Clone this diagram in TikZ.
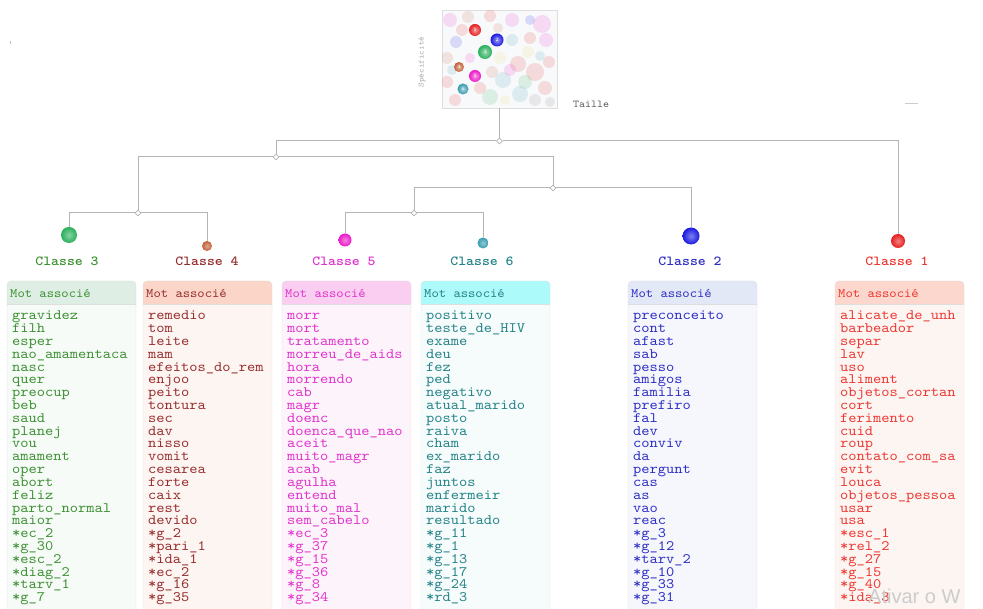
\documentclass[tikz,border=0pt]{standalone}
\usepackage{fontspec}
\setmonofont{lmmono10-regular.otf}[FakeStretch=1.09,BoldFont=lmmonolt10-bold.otf]
\newfontfamily\wmfont{Liberation Sans}
\usetikzlibrary{shapes.geometric,calc}
\definecolor{treegray}{RGB}{180,180,180}
\definecolor{framegray}{RGB}{222,222,222}
\definecolor{dot3}{RGB}{40,175,90}  \definecolor{txt3}{RGB}{60,145,50}  \definecolor{hdr3}{RGB}{223,238,228} \definecolor{bg3}{RGB}{246,251,247}
\definecolor{dot4}{RGB}{195,95,55}  \definecolor{txt4}{RGB}{150,45,45}  \definecolor{hdr4}{RGB}{250,213,200} \definecolor{bg4}{RGB}{253,245,242}
\definecolor{dot5}{RGB}{235,25,200} \definecolor{txt5}{RGB}{225,50,205} \definecolor{hdr5}{RGB}{250,206,240} \definecolor{bg5}{RGB}{253,244,251}
\definecolor{dot6}{RGB}{55,155,175} \definecolor{txt6}{RGB}{35,130,135} \definecolor{hdr6}{RGB}{172,250,250} \definecolor{bg6}{RGB}{246,252,252}
\definecolor{dot2}{RGB}{25,25,225}  \definecolor{txt2}{RGB}{45,45,195}  \definecolor{hdr2}{RGB}{226,232,246} \definecolor{bg2}{RGB}{245,247,253}
\definecolor{dot1}{RGB}{230,30,30}  \definecolor{txt1}{RGB}{235,55,50}  \definecolor{hdr1}{RGB}{252,215,205} \definecolor{bg1}{RGB}{253,245,242}
\definecolor{pale}{RGB}{240,220,90}
\begin{document}
\begin{tikzpicture}[
  x=1pt,y=-1pt,
  tree/.style={draw=treegray,line width=1pt},
  junction/.style={diamond,draw=treegray,fill=white,line width=0.8pt,inner sep=0pt,minimum size=6pt},
  classdot/.style={circle,inner sep=0pt},
  classlab/.style={anchor=base,inner sep=0pt,font=\fontsize{13.8}{13.8}\selectfont\ttfamily\bfseries},
  hdrtext/.style={anchor=base west,inner sep=0pt,font=\fontsize{12.8}{12.8}\selectfont\ttfamily},
  word/.style={anchor=base west,inner sep=0pt,font=\fontsize{14.4}{14}\selectfont\ttfamily},
]
  \useasboundingbox (0,0) rectangle (983,609);
  \clip (0,0) rectangle (983,609);

  % Scatter thumbnail
  \node[draw=framegray,fill={rgb,255:red,248;green,249;blue,251},minimum width=115pt,
        minimum height=98pt,inner sep=0pt] (plot) at (499.5,59) {};
  \begin{scope}
    \clip (442,10) rectangle (557,108);
    \foreach \x/\y/\r/\c in {450/20/7/dot5, 468/17/6/dot4, 490/16/6/dot1, 512/20/7/dot5,
        542/24/9/dot5, 546/40/7/dot5, 530/38/6/dot1, 456/42/6/dot2, 447/58/6/dot4,
        500/58/6/pale, 528/52/6/pale, 518/64/8/dot1, 535/72/9/dot1, 549/62/6/dot1,
        503/80/8/dot6, 492/72/6/dot4, 545/88/7/dot1, 520/94/8/dot6, 490/97/8/dot3,
        455/100/6/dot1, 447/82/6/dot1, 512/40/6/dot6, 535/100/6/gray, 550/102/5/gray,
        470/58/5/dot5, 505/100/5/pale, 462/30/6/dot1, 525/82/7/dot3, 510/70/6/dot5,
        480/88/6/dot1, 540/56/5/dot6, 498/28/5/dot4, 452/70/5/dot6, 530/20/5/dot2}
      \fill[\c,opacity=0.14] (\x,\y) circle (\r pt);
  \end{scope}
  \node[classdot,inner color=dot1!45!white,outer color=dot1,minimum size=12pt,text=white,font=\fontsize{5}{5}\selectfont] (p1) at (475,30) {1};
  \node[classdot,inner color=dot2!45!white,outer color=dot2,minimum size=13pt,text=white,font=\fontsize{5}{5}\selectfont] (p2) at (497,40) {2};
  \node[classdot,inner color=dot3!45!white,outer color=dot3,minimum size=14pt,text=white,font=\fontsize{5}{5}\selectfont] (p3) at (485,52) {3};
  \node[classdot,inner color=dot4!45!white,outer color=dot4,minimum size=10pt,text=white,font=\fontsize{5}{5}\selectfont] (p4) at (459,67) {4};
  \node[classdot,inner color=dot5!45!white,outer color=dot5,minimum size=12pt,text=white,font=\fontsize{5}{5}\selectfont] (p5) at (475,76) {5};
  \node[classdot,inner color=dot6!45!white,outer color=dot6,minimum size=11pt,text=white,font=\fontsize{5}{5}\selectfont] (p6) at (463,89) {6};
  \node[rotate=90,text=gray!70,font=\fontsize{8}{8}\selectfont\ttfamily] (yaxis) at (422,62) {Spécificité};
  \node[anchor=base west,inner sep=0pt,text=black!65,font=\fontsize{10.5}{10.5}\selectfont\ttfamily] (xaxis) at (573,108) {Taille};

  % small marks
  \draw[gray!40,line width=0.8pt] (905,103) -- (918,103);
  \draw[gray!50,line width=0.8pt] (10,41) -- (11,44);

  % Junctions and classes
  \node[junction] (j0) at (499.5,141) {};
  \node[junction] (j1) at (276,157) {};
  \node[junction] (j3) at (553,188) {};
  \node[junction] (j2) at (138,213) {};
  \node[junction] (j4) at (414,213) {};
  \node[classdot,inner color=dot3!55!white,outer color=dot3,minimum size=16pt] (c3) at (69,235) {};
  \node[classdot,inner color=dot4!55!white,outer color=dot4,minimum size=10pt] (c4) at (207,246) {};
  \node[classdot,inner color=dot5!55!white,outer color=dot5,minimum size=13pt] (c5) at (345,240) {};
  \node[classdot,inner color=dot6!55!white,outer color=dot6,minimum size=11pt] (c6) at (483,243) {};
  \node[classdot,inner color=dot2!55!white,outer color=dot2,minimum size=17pt] (c2) at (691,236) {};
  \node[classdot,inner color=dot1!55!white,outer color=dot1,minimum size=14pt] (c1) at (898,241) {};

  % Tree
  \draw[tree] (plot) -- (j0);
  \draw[tree] (j0) -| (j1);
  \draw[tree] (j0) -| (c1);
  \draw[tree] (j1) -| (j2);
  \draw[tree] (j1) -| (j3);
  \draw[tree] (j3) -| (j4);
  \draw[tree] (j3) -| (c2);
  \draw[tree] (j2) -| (c3);
  \draw[tree] (j2) -| (c4);
  \draw[tree] (j4) -| (c5);
  \draw[tree] (j4) -| (c6);

  % Class labels
  \node[classlab,text=txt3] (l3) at (67,265.5) {Classe 3};
  \node[classlab,text=txt4] (l4) at (207,265.5) {Classe 4};
  \node[classlab,text=txt5] (l5) at (344,265.5) {Classe 5};
  \node[classlab,text=txt6] (l6) at (482,265.5) {Classe 6};
  \node[classlab,text=txt2] (l2) at (690,265.5) {Classe 2};
  \node[classlab,text=txt1] (l1) at (897,265.5) {Classe 1};

  % Tables
  \foreach \l/\n in {7/3,143/4,282/5,421/6,628/2,835/1}{
    \fill[hdr\n,rounded corners=4pt] (\l,281) rectangle ({\l+129},312);
    \fill[bg\n] (\l,304) rectangle ({\l+129},615);
    \draw[framegray,rounded corners=4pt] (\l,281) rectangle ({\l+129},615);
    \draw[framegray] (\l,304) -- ({\l+129},304);
    \node[hdrtext,text=txt\n] (h\n) at ({\l+3},297.5) {Mot associé};
  }

  % Word lists
  \foreach \w [count=\i] in {gravidez, filh, esper, nao\_amamentaca, nasc, quer, preocup, beb,
      saud, planej, vou, amament, oper, abort, feliz, parto\_normal, maior, *ec\_2, *g\_30,
      *esc\_2, *diag\_2, *tarv\_1, *g\_7}
    \node[word,text=txt3] (w3-\i) at (12,{320+12.8*(\i-1)}) {\w};
  \foreach \w [count=\i] in {remedio, tom, leite, mam, efeitos\_do\_rem, enjoo, peito, tontura,
      sec, dav, nisso, vomit, cesarea, forte, caix, rest, devido, *g\_2, *pari\_1, *ida\_1,
      *ec\_2, *g\_16, *g\_35}
    \node[word,text=txt4] (w4-\i) at (148,{320+12.8*(\i-1)}) {\w};
  \foreach \w [count=\i] in {morr, mort, tratamento, morreu\_de\_aids, hora, morrendo, cab, magr,
      doenc, doenca\_que\_nao, aceit, muito\_magr, acab, agulha, entend, muito\_mal,
      sem\_cabelo, *ec\_3, *g\_37, *g\_15, *g\_36, *g\_8, *g\_34}
    \node[word,text=txt5] (w5-\i) at (287,{320+12.8*(\i-1)}) {\w};
  \foreach \w [count=\i] in {positivo, teste\_de\_HIV, exame, deu, fez, ped, negativo,
      atual\_marido, posto, raiva, cham, ex\_marido, faz, juntos, enfermeir, marido, resultado,
      *g\_11, *g\_1, *g\_13, *g\_17, *g\_24, *rd\_3}
    \node[word,text=txt6] (w6-\i) at (426,{320+12.8*(\i-1)}) {\w};
  \foreach \w [count=\i] in {preconceito, cont, afast, sab, pesso, amigos, familia, prefiro, fal,
      dev, conviv, da, pergunt, cas, as, vao, reac, *g\_3, *g\_12, *tarv\_2, *g\_10, *g\_33,
      *g\_31}
    \node[word,text=txt2] (w2-\i) at (633,{320+12.8*(\i-1)}) {\w};
  \foreach \w [count=\i] in {alicate\_de\_unh, barbeador, separ, lav, uso, aliment,
      objetos\_cortan, cort, ferimento, cuid, roup, contato\_com\_sa, evit, louca,
      objetos\_pessoa, usar, usa, *esc\_1, *rel\_2, *g\_27, *g\_15, *g\_40, *ida\_3}
    \node[word,text=txt1] (w1-\i) at (840,{320+12.8*(\i-1)}) {\w};

  % Watermark
  \node[anchor=base west,inner sep=0pt,text=gray!40,font=\fontsize{20}{20}\wmfont] (wm) at (868,603) {Ativar o W};
\end{tikzpicture}
\end{document}
